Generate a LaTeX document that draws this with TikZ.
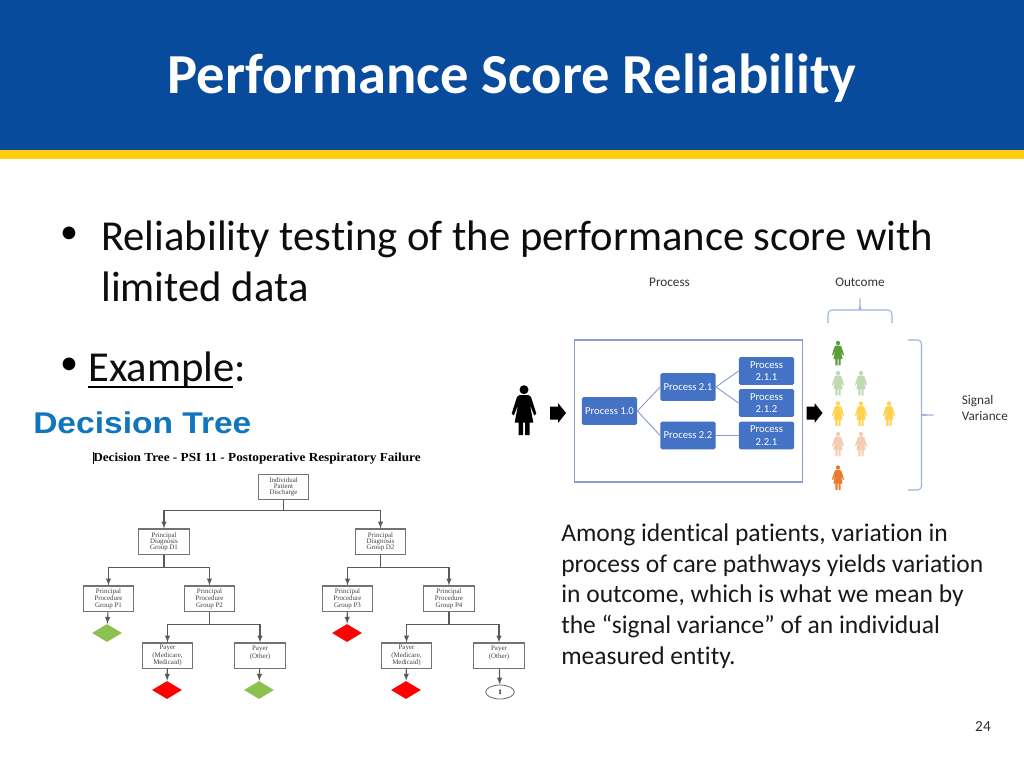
\documentclass[tikz,border=0pt]{standalone}
\usepackage{fontspec}
\setmainfont[Ligatures=NoCommon]{Carlito}
\newfontfamily\headfont[FakeStretch=1.118]{Liberation Sans}
\newfontfamily\treefont{Liberation Serif}
\newfontfamily\treewide[FakeStretch=1.08]{Liberation Serif}
\usetikzlibrary{shapes}
\usetikzlibrary{arrows}
\definecolor{slideblue}{HTML}{084A9B}
\definecolor{slideyellow}{HTML}{FFCF0F}
\definecolor{procblue}{HTML}{4472C4}
\definecolor{linkblue}{HTML}{8C9CCF}
\definecolor{bracelink}{HTML}{9DB3DC}
\definecolor{headblue}{HTML}{0F75BC}
\definecolor{leafgreen}{HTML}{8CC152}
\definecolor{peopleA}{HTML}{5B9E3A}
\definecolor{peopleB}{HTML}{BFDAB2}
\definecolor{peopleC}{HTML}{FFD24F}
\definecolor{peopleD}{HTML}{F6CDB4}
\definecolor{peopleE}{HTML}{E97B30}
\tikzstyle{bullettext}=[anchor=base west,inner sep=0,font=\fontsize{32}{36}\selectfont,text=black!95]
\tikzstyle{bulletdot}=[inner sep=0,font=\fontsize{27}{30}\selectfont,text=black]
\tikzstyle{bodytext}=[anchor=base west,inner sep=0,font=\fontsize{19.15}{22}\selectfont,text=black!90]
\tikzstyle{smalltext}=[inner sep=0,font=\fontsize{9.9}{11.8}\selectfont,text=black!80]
\tikzstyle{treebox}=[draw=black!55,line width=0.8pt,fill=white,minimum width=38pt,minimum height=18.8pt,inner sep=0,align=center,font=\treefont\fontsize{5.2}{4.6}\selectfont,text=black!75]
\tikzstyle{treelink}=[draw=black!65,line width=0.8pt]
\tikzstyle{treearrow}=[treelink,-latex]
\tikzstyle{endleaf}=[diamond,inner sep=0,minimum width=22.5pt,minimum height=13.5pt,draw=none]
\tikzstyle{procbox}=[fill=procblue,rounded corners=1.2pt,minimum width=41.5pt,minimum height=20.8pt,inner sep=0,align=center,text=white,font=\fontsize{8}{9.3}\selectfont]
\tikzstyle{proclink}=[draw=linkblue,line width=0.7pt]
\tikzstyle{bracket}=[draw=bracelink,line width=0.8pt,rounded corners=3pt]
\tikzset{person/.pic={
  \fill[pic actions] (0,-20.3) circle (4.5);
  \fill[pic actions] (-4.5,-15) -- (4.5,-15) -- (7,-13) -- (12.3,3.5) -- (10.2,5.5) -- (6,-5)
    -- (9.3,12.5) -- (5.5,12.5) -- (5.5,25) -- (1,25) -- (1,12.5) -- (-1,12.5) -- (-1,25)
    -- (-5.5,25) -- (-5.5,12.5) -- (-9.3,12.5) -- (-6,-5) -- (-10.2,5.5) -- (-12.3,3.5)
    -- (-7,-13) -- cycle;
}}
\tikzset{blockarrow/.pic={
  \fill[black] (-8,-6.5) -- (0,-6.5) -- (0,-10) -- (8,0) -- (0,10) -- (0,6.5) -- (-8,6.5) -- cycle;
}}
\begin{document}
\begin{tikzpicture}[x=0.75pt,y=-0.75pt]
  \useasboundingbox (0,0) rectangle (1024,768);
  % header
  \fill[slideblue] (0,0) rectangle (1024,150);
  \fill[slideyellow] (0,150) rectangle (1024,158.5);
  \node[anchor=base,inner sep=0,text=white,font=\bfseries\fontsize{42.4}{50}\selectfont] at (512,93) (title) {Performance Score Reliability};
  % bullets
  \node[bulletdot] at (69,235) (dotA) {•};
  \node[bullettext] at (101,250) (lineA) {Reliability testing of the performance score with};
  \node[bullettext] at (101,301) (lineB) {limited data};
  \node[bulletdot] at (69,366) (dotB) {•};
  \node[bullettext] at (88,381) (lineC) {Example:};
  \draw[black,line width=1.1pt] (88,387) -- (233,387);
  % decision tree
  \node[anchor=base west,inner sep=0,text=headblue,font=\headfont\bfseries\fontsize{22.5}{26}\selectfont] at (33,433) (treehead) {Decision Tree};
  \node[anchor=base west,inner sep=0,font=\treewide\bfseries\fontsize{9.2}{10}\selectfont] at (93,461) (treetitle) {Decision Tree - PSI 11 - Postoperative Respiratory Failure};
  \draw[black,line width=0.5pt] (treetitle.north west) -- (treetitle.south west);
  \node[treebox] at (283.5,487) (root) {Individual\\Patient\\Discharge};
  \node[treebox] at (164,541.5) (D1) {Principal\\Diagnosis\\Group D1};
  \node[treebox] at (380.5,541.5) (D2) {Principal\\Diagnosis\\Group D2};
  \node[treebox] at (108.5,598.5) (P1) {Principal\\Procedure\\Group P1};
  \node[treebox] at (209.5,598.5) (P2) {Principal\\Procedure\\Group P2};
  \node[treebox] at (347.5,598.5) (P3) {Principal\\Procedure\\Group P3};
  \node[treebox] at (449,598.5) (P4) {Principal\\Procedure\\Group P4};
  \node[treebox] at (167.5,655.5) (Y1) {Payer\\(Medicare,\\Medicaid)};
  \node[treebox] at (260,655.5) (Y2) {Payer\\(Other)\\~};
  \node[treebox] at (406.5,655.5) (Y3) {Payer\\(Medicare,\\Medicaid)};
  \node[treebox] at (499,655.5) (Y4) {Payer\\(Other)\\~};
  \node[endleaf,fill=leafgreen] at (107,633) (E1) {};
  \node[endleaf,fill=red] at (347,633) (E3) {};
  \node[endleaf,fill=red] at (167,690) (E5) {};
  \node[endleaf,fill=leafgreen] at (259,690) (E6) {};
  \node[endleaf,fill=red] at (406,690) (E7) {};
  \node[ellipse,draw=black!60,line width=0.6pt,inner sep=0,minimum width=21.5pt,minimum height=10.5pt,font=\treefont\bfseries\fontsize{5.2}{5.6}\selectfont] at (500,692) (E8) {1};
  \draw[treearrow] (root.south) -- ++(0,10) -| (D1.north);
  \draw[treearrow] (root.south) -- ++(0,10) -| (D2.north);
  \draw[treearrow] (D1.south) -- ++(0,13) -| (P1.north);
  \draw[treearrow] (D1.south) -- ++(0,13) -| (P2.north);
  \draw[treearrow] (D2.south) -- ++(0,13) -| (P3.north);
  \draw[treearrow] (D2.south) -- ++(0,13) -| (P4.north);
  \draw[treearrow] (P2.south) -- ++(0,13) -| (Y1.north);
  \draw[treearrow] (P2.south) -- ++(0,13) -| (Y2.north);
  \draw[treearrow] (P4.south) -- ++(0,13) -| (Y3.north);
  \draw[treearrow] (P4.south) -- ++(0,13) -| (Y4.north);
  \draw[treearrow] (P1) -- (E1);
  \draw[treearrow] (P3) -- (E3);
  \draw[treearrow] (Y1) -- (E5);
  \draw[treearrow] (Y2) -- (E6);
  \draw[treearrow] (Y3) -- (E7);
  \draw[treearrow] (Y4) -- (E8);
  % process picture
  \node[smalltext] at (669.5,282) (proclabel) {Process};
  \node[smalltext] at (860,282) (outlabel) {Outcome};
  \node[draw=linkblue,line width=0.8pt,minimum width=171.5pt,minimum height=106.5pt,inner sep=0] at (688.5,411) (frame) {};
  \node[procbox] at (609.5,411) (p10) {Process 1.0};
  \node[procbox] at (688,387) (p21) {Process 2.1};
  \node[procbox] at (688,435.5) (p22) {Process 2.2};
  \node[procbox] at (766.5,371) (p211) {Process\\2.1.1};
  \node[procbox] at (766.5,403) (p212) {Process\\2.1.2};
  \node[procbox] at (766.5,435.5) (p221) {Process\\2.2.1};
  \draw[proclink] (p10.east) -- (p21.west);
  \draw[proclink] (p10.east) -- (p22.west);
  \draw[proclink] (p21.east) -- (p211.west);
  \draw[proclink] (p21.east) -- (p212.west);
  \draw[proclink] (p22.east) -- (p221.west);
  \pic[fill=black] at (524,410) {person};
  \pic at (558,413) {blockarrow};
  \pic at (814.5,413) {blockarrow};
  \foreach \px/\py/\pc in {838/353/peopleA,838/383/peopleB,861/383/peopleB,838/413.5/peopleC,861/413.5/peopleC,889/413.5/peopleC,838/444/peopleD,861/444/peopleD,838/477.5/peopleE}
    \pic[fill=\pc,scale=0.49] at (\px,\py) {person};
  % braces
  \draw[bracket] (828,323) -- (828,310) -- (858,310) .. controls (860,310) and (860,305) .. (860,296) .. controls (860,305) and (860,310) .. (862,310) -- (892,310) -- (892,323);
  \draw[bracket] (908,340) -- (921.5,340) -- (921.5,411) .. controls (921.5,414) and (925,415) .. (936,415) .. controls (925,415) and (921.5,416) .. (921.5,419) -- (921.5,490) -- (908,490);
  \node[smalltext,anchor=base west] at (961.5,404) (sigA) {Signal};
  \node[smalltext,anchor=base west] at (961.5,420) (sigB) {Variance};
  % note
  \node[bodytext] at (561,541.5) (noteA) {Among identical patients, variation in};
  \node[bodytext] at (561,572.5) (noteB) {process of care pathways yields variation};
  \node[bodytext] at (561,602.5) (noteC) {in outcome, which is what we mean by};
  \node[bodytext] at (561,633.5) (noteD) {the “signal variance” of an individual};
  \node[bodytext] at (561,664.5) (noteE) {measured entity.};
  \node[inner sep=0,font=\fontsize{11.5}{14}\selectfont,text=black!80] at (983,727) (pagenum) {24};
\end{tikzpicture}
\end{document}
